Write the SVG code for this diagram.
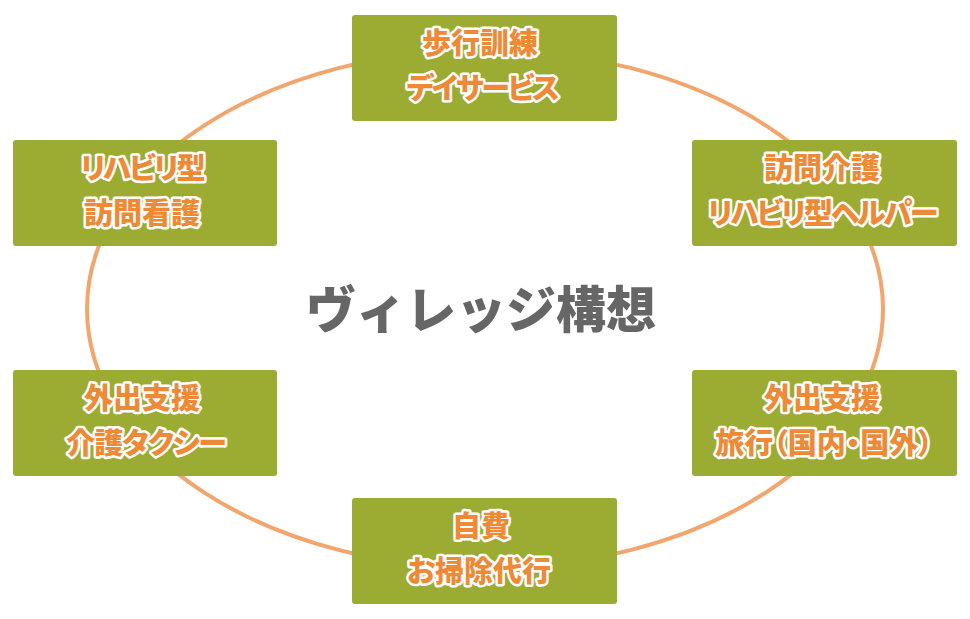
<svg xmlns="http://www.w3.org/2000/svg" width="970" height="619" viewBox="0 0 970 619">
<style>
.box{fill:#9cac32;}
.lbl{font-family:"Noto Sans CJK JP","Noto Sans",sans-serif;font-weight:900;font-size:29px;font-feature-settings:"palt" 1;fill:#ee8a35;stroke:#ffffff;stroke-width:5px;stroke-linejoin:round;paint-order:stroke;text-anchor:middle;}
.k{letter-spacing:-2px;}
.k1{letter-spacing:-1px;}
.title{font-family:"Noto Sans CJK JP","Noto Sans",sans-serif;font-weight:900;font-size:50px;fill:#666666;text-anchor:middle;}
</style>
<rect width="970" height="619" fill="#ffffff"/>
<g id="connectors">
<ellipse cx="485" cy="309" rx="398" ry="259" fill="none" stroke="#f2a66e" stroke-width="4"/>
</g>
<g id="title"><text class="title" x="481" y="328">ヴィレッジ構想</text></g>
<g id="n-top">
<rect class="box" x="352" y="15" width="265" height="106" rx="3"/>
<text class="lbl" x="480" y="54">歩行訓練</text>
<text class="lbl k" x="482" y="99">デイサービス</text>
</g>
<g id="n-left-top">
<rect class="box" x="13" y="140" width="264" height="106" rx="3"/>
<text class="lbl k" x="142" y="179">リハビリ型</text>
<text class="lbl" x="142" y="224">訪問看護</text>
</g>
<g id="n-right-top">
<rect class="box" x="692" y="140" width="265" height="106" rx="3"/>
<text class="lbl" x="822" y="179">訪問介護</text>
<text class="lbl k" x="822" y="224">リハビリ型ヘルパー</text>
</g>
<g id="n-left-bottom">
<rect class="box" x="13" y="370" width="264" height="106" rx="3"/>
<text class="lbl" x="142" y="409">外出支援</text>
<text class="lbl k1" x="146" y="454">介護タクシー</text>
</g>
<g id="n-right-bottom">
<rect class="box" x="692" y="370" width="265" height="106" rx="3"/>
<text class="lbl" x="822" y="409">外出支援</text>
<text class="lbl" x="824" y="454">旅行（国内・国外）</text>
</g>
<g id="n-bottom">
<rect class="box" x="352" y="498" width="265" height="106" rx="3"/>
<text class="lbl" x="481" y="537">自費</text>
<text class="lbl" x="479" y="582">お掃除代行</text>
</g>
</svg>
